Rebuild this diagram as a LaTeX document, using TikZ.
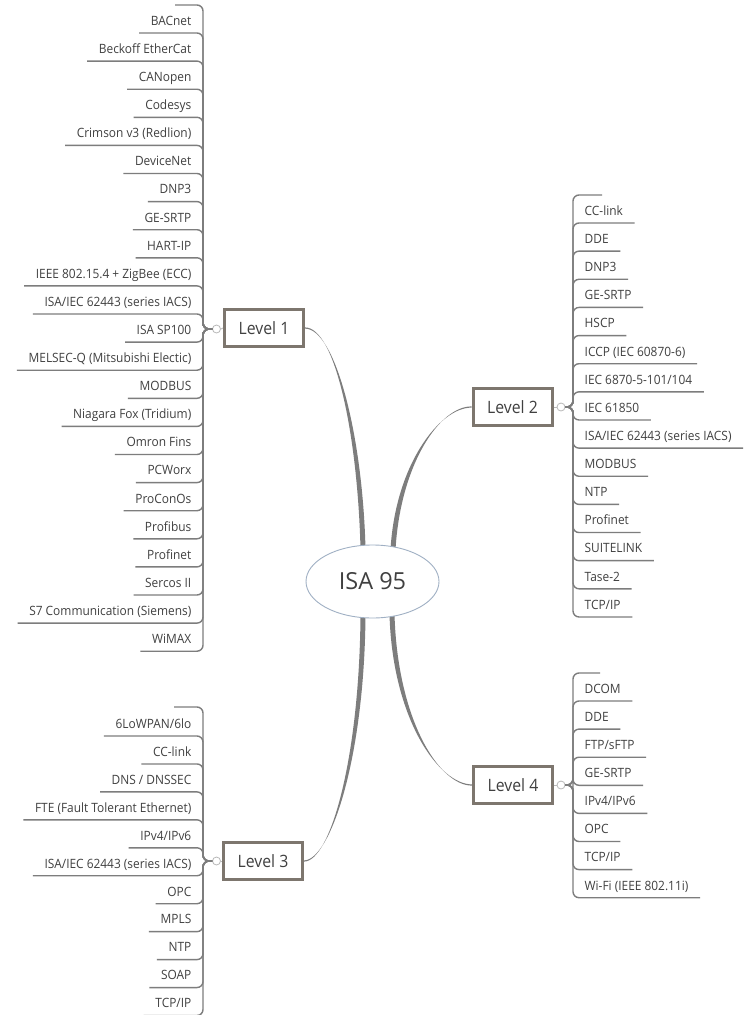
\documentclass[tikz,border=0pt]{standalone}
\usepackage{fontspec}
\setmainfont{Open Sans}
\newfontfamily\narrowfont{Open Sans}[FakeStretch=0.93]
\usetikzlibrary{calc,shapes.geometric,backgrounds}
\definecolor{txt}{RGB}{64,64,64}
\definecolor{lin}{RGB}{125,125,125}
\definecolor{boxc}{RGB}{125,118,110}
\definecolor{dotc}{RGB}{185,185,185}
\definecolor{ellc}{RGB}{160,176,196}
\tikzset{
  leafL/.style={anchor=south east, inner xsep=11.5pt, inner ysep=4.5pt, text height=9.5pt, text depth=3pt, text=txt, font=\narrowfont\fontsize{12.8}{14}\selectfont},
  leafR/.style={anchor=south west, inner xsep=11.5pt, inner ysep=4.5pt, text height=9.5pt, text depth=3pt, text=txt, font=\narrowfont\fontsize{12.8}{14}\selectfont},
  branch/.style={draw=lin, line width=1.4pt, rounded corners=6pt},
  levelbox/.style={draw=boxc, line width=3pt, fill=white, minimum width=79pt, minimum height=37pt, text=txt, font=\narrowfont\fontsize{17}{19}\selectfont},
  knob/.style={circle, draw=dotc, line width=0.8pt, fill=white, minimum size=8pt, inner sep=0pt},
  conn/.style={fill=lin},
  root/.style={ellipse, draw=ellc, line width=0.9pt, fill=white, minimum width=133pt, minimum height=73pt, inner sep=0pt, text=txt, font=\fontsize{23.5}{26}\selectfont}
}
\begin{document}
\begin{tikzpicture}[x=1pt,y=-1pt]
\useasboundingbox (0,0) rectangle (747,1015);
% root and levels
\node[root] (isa) at (372.5,581.5) {ISA 95};
\node[levelbox] (l1) at (264,328) {Level 1};
\node[levelbox] (l2) at (512.5,407) {Level 2};
\node[levelbox] (l3) at (263,861) {Level 3};
\node[levelbox] (l4) at (513,785) {Level 4};
\node[knob] (d1) at (216.5,329) {};
\node[knob] (d2) at (561,407) {};
\node[knob] (d3) at (216.5,861) {};
\node[knob] (d4) at (561,785) {};
\draw[draw=dotc, line width=0.8pt] (l1.west) -- (d1.east);
\draw[draw=dotc, line width=0.8pt] (l2.east) -- (d2.west);
\draw[draw=dotc, line width=0.8pt] (l3.west) -- (d3.east);
\draw[draw=dotc, line width=0.8pt] (l4.east) -- (d4.west);
\begin{pgfonlayer}{background}
\fill[white] (0,0) rectangle (747,1015);
\fill[conn] ([yshift=0.6pt]l1.east) .. controls +(30,0) and +(-3,-115) .. ($(isa.north)+(-12,4)$) -- ($(isa.north)+(-7,4)$) .. controls +(-3,-115) and +(30,0) .. ([yshift=-0.6pt]l1.east) -- cycle;
\fill[conn] ([yshift=0.6pt]l2.west) .. controls +(-32,0) and +(5,-85) .. ($(isa.north)+(23,5)$) -- ($(isa.north)+(18,5)$) .. controls +(5,-85) and +(-32,0) .. ([yshift=-0.6pt]l2.west) -- cycle;
\fill[conn] ([yshift=0.6pt]l3.east) .. controls +(26,0) and +(-1,145) .. ($(isa.south)+(-7,-4)$) -- ($(isa.south)+(-12,-4)$) .. controls +(-1,145) and +(26,0) .. ([yshift=-0.6pt]l3.east) -- cycle;
\fill[conn] ([yshift=0.6pt]l4.west) .. controls +(-33,0) and +(3,105) .. ($(isa.south)+(17,-4)$) -- ($(isa.south)+(22,-4)$) .. controls +(3,105) and +(-33,0) .. ([yshift=-0.6pt]l4.west) -- cycle;
\end{pgfonlayer}
% Level 1 leaves
\coordinate (a0) at (203,5);
\coordinate (a0b) at (175,5);
\draw[branch] (d1.west) -| (a0) -- (a0b);
\foreach \t [count=\i] in {{BACnet},{Beckoff EtherCat},{CANopen},{Codesys},{Crimson v3 (Redlion)},{DeviceNet},{DNP3},{GE-SRTP},{HART-IP},{IEEE 802.15.4 + ZigBee (ECC)},{ISA/IEC 62443 (series IACS)},{ISA SP100},{MELSEC-Q (Mitsubishi Electic)},{MODBUS},{Niagara Fox (Tridium)},{Omron Fins},{PCWorx},{ProConOs},{Profibus},{Profinet},{Sercos II},{S7 Communication (Siemens)},{WiMAX}}{
  \node[leafL] (a\i) at (203,{33+(\i-1)*28.1}) {\t};
  \draw[branch] (d1.west) -| (a\i.south east) -- (a\i.south west);
}
% Level 2 leaves
\coordinate (b0) at (573,195);
\coordinate (b0b) at (602,195);
\draw[branch] (d2.east) -| (b0) -- (b0b);
\foreach \t [count=\i] in {{CC-link},{DDE},{DNP3},{GE-SRTP},{HSCP},{ICCP (IEC 60870-6)},{IEC 6870-5-101/104},{IEC 61850},{ISA/IEC 62443 (series IACS)},{MODBUS},{NTP},{Profinet},{SUITELINK},{Tase-2},{TCP/IP}}{
  \node[leafR] (b\i) at (573,{223+(\i-1)*28.14}) {\t};
  \draw[branch] (d2.east) -| (b\i.south west) -- (b\i.south east);
}
% Level 3 leaves
\coordinate (c0) at (203,707);
\coordinate (c0b) at (174,707);
\draw[branch] (d3.west) -| (c0) -- (c0b);
\foreach \t [count=\i] in {{6LoWPAN/6lo},{CC-link},{DNS / DNSSEC},{FTE (Fault Tolerant Ethernet)},{IPv4/IPv6},{ISA/IEC 62443 (series IACS)},{OPC},{MPLS},{NTP},{SOAP},{TCP/IP}}{
  \node[leafL] (c\i) at (203,{736+(\i-1)*27.95}) {\t};
  \draw[branch] (d3.west) -| (c\i.south east) -- (c\i.south west);
}
% Level 4 leaves
\coordinate (e0) at (573,673);
\coordinate (e0b) at (600,673);
\draw[branch] (d4.east) -| (e0) -- (e0b);
\foreach \t [count=\i] in {{DCOM},{DDE},{FTP/sFTP},{GE-SRTP},{IPv4/IPv6},{OPC},{TCP/IP},{Wi-Fi (IEEE 802.11i)}}{
  \node[leafR] (e\i) at (573,{701+(\i-1)*28.1}) {\t};
  \draw[branch] (d4.east) -| (e\i.south west) -- (e\i.south east);
}
\end{tikzpicture}
\end{document}
